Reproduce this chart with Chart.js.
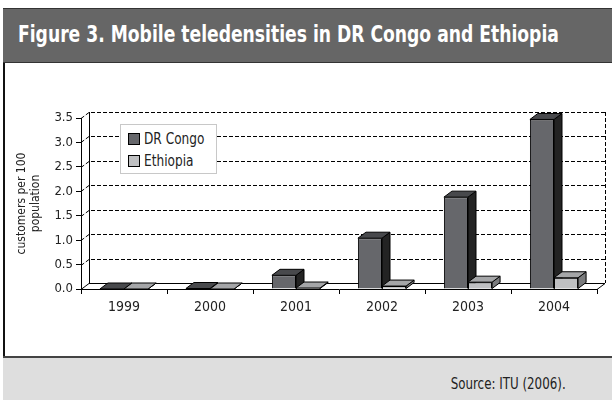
<!DOCTYPE html>
<html>
<head>
<meta charset="utf-8">
<script src="https://cdn.jsdelivr.net/npm/chart.js@4.4.1/dist/chart.umd.min.js"></script>
<style>
    body { margin: 0; width: 612px; height: 400px; position: relative; overflow: hidden; background: #fff;
           font-family: "Liberation Sans Narrow", "DejaVu Sans Condensed", sans-serif; }
    #frame { position: absolute; left: 3px; top: 8px; width: 609px; height: 392px; border-left: 2px solid #111; }
    #head { position: absolute; left: 3px; top: 8px; width: 609px; height: 53px; background: #666;
            border-top: 1px solid #333; border-bottom: 1px solid #333; }
    #head span { position: absolute; left: 15px; top: 12px; color: #fff; font-weight: bold; font-size: 23px;
                 white-space: nowrap; transform: scaleX(0.83); transform-origin: left center; }
    #foot { position: absolute; left: 3px; top: 356px; width: 609px; height: 44px; background: #dedede; border-top: 2px solid #444; }
    #foot span { position: absolute; right: 46px; top: 17px; font-size: 15px; color: #222;
                 white-space: nowrap; transform: scaleX(0.88); transform-origin: right center; }
    #chart { position: absolute; left: 0; top: 0; }
    #legend { position: absolute; left: 120px; top: 124px; width: 95px; height: 48px; background: #fff;
              border: 1px solid #c8c8c8; font-size: 15px; color: #222; }
    #legend div { position: absolute; left: 7px; height: 16px; line-height: 16px; white-space: nowrap; }
    #legend i { display: inline-block; width: 10px; height: 10px; border: 1px solid #000; vertical-align: -1px; margin-right: 4px; }
    #legend b { font-weight: normal; display: inline-block; transform: scaleX(0.9); transform-origin: left center; }
</style>
</head>
<body>
<div id="frame"></div>
<div id="head"><span>Figure 3. Mobile teledensities in DR Congo and Ethiopia</span></div>
<div id="foot"><span>Source: ITU (2006).</span></div>
<canvas id="chart" width="612" height="400"></canvas>
<div id="legend"></div>
<script>
const years = ['1999', '2000', '2001', '2002', '2003', '2004'];
const drCongo = [0, 0.01, 0.28, 1.04, 1.88, 3.47];
const ethiopia = [0, 0, 0.02, 0.06, 0.14, 0.23];
const yTicks = [0, 0.5, 1, 1.5, 2, 2.5, 3, 3.5];

// depth of the fake 3d look
const DX = 8, DY = -6;

const seriesStyle = [
    { label: 'DR Congo', front: '#66676b', top: '#48494c', side: '#232323' },
    { label: 'Ethiopia', front: '#bfc0c2', top: '#a5a6a8', side: '#7a7b7d' }
];

// back wall, floor and left wall
const wallPlugin = {
    id: 'wall',
    beforeDatasetsDraw(chart) {
        const ctx = chart.ctx;
        const y = chart.scales.y;
        const a = chart.chartArea;
        const left = a.left, right = a.right;
        const y0 = y.getPixelForValue(0), yTop = y.getPixelForValue(yTicks[yTicks.length - 1]);
        ctx.save();
        ctx.strokeStyle = '#000';
        ctx.lineWidth = 1;
        // dashed grid on back wall
        ctx.setLineDash([4, 2]);
        yTicks.forEach(v => {
            if (v === 0) return;
            const py = Math.round(y.getPixelForValue(v)) + 0.5;
            ctx.beginPath();
            ctx.moveTo(left, py);
            ctx.lineTo(left + DX, py + DY);
            ctx.lineTo(right + DX, py + DY);
            ctx.stroke();
        });
        // right edge of back wall
        ctx.beginPath();
        ctx.moveTo(right + DX + 0.5, yTop + DY);
        ctx.lineTo(right + DX + 0.5, y0 + DY);
        ctx.stroke();
        ctx.setLineDash([]);
        // floor
        const fy = Math.round(y0) + 0.5;
        ctx.beginPath();
        ctx.moveTo(left, fy);
        ctx.lineTo(left + DX, fy + DY);
        ctx.lineTo(right + DX, fy + DY);
        ctx.lineTo(right, fy);
        ctx.stroke();
        // back edge of left wall
        ctx.beginPath();
        ctx.moveTo(left + DX + 0.5, yTop + DY);
        ctx.lineTo(left + DX + 0.5, y0 + DY);
        ctx.stroke();
        ctx.restore();
    }
};

function drawFaces(ctx, bar, st) {
    const l = bar.x - bar.width / 2, r = bar.x + bar.width / 2;
    const t = bar.y, b = bar.base;
    ctx.fillStyle = st.side;
    ctx.beginPath();
    ctx.moveTo(r, t);
    ctx.lineTo(r + DX, t + DY);
    ctx.lineTo(r + DX, b + DY);
    ctx.lineTo(r, b);
    ctx.closePath();
    ctx.fill();
    ctx.stroke();
    ctx.fillStyle = st.top;
    ctx.beginPath();
    ctx.moveTo(l, t);
    ctx.lineTo(l + DX, t + DY);
    ctx.lineTo(r + DX, t + DY);
    ctx.lineTo(r, t);
    ctx.closePath();
    ctx.fill();
    ctx.stroke();
}

// top and side faces; later series fronts are drawn again so they sit over the earlier sides
const depthPlugin = {
    id: 'depth',
    afterDatasetsDraw(chart) {
        const ctx = chart.ctx;
        chart.data.datasets.forEach((ds, i) => {
            const meta = chart.getDatasetMeta(i);
            if (i > 0) meta.data.forEach(bar => bar.draw(ctx));
            ctx.save();
            ctx.strokeStyle = '#000';
            ctx.lineWidth = 1;
            ctx.lineJoin = 'round';
            meta.data.forEach(bar => drawFaces(ctx, bar, seriesStyle[i]));
            ctx.restore();
        });
    }
};

const font = '"Liberation Sans Narrow", "DejaVu Sans Condensed", sans-serif';

new Chart(document.getElementById('chart'), {
    type: 'bar',
    data: {
        labels: years,
        datasets: [
            { label: seriesStyle[0].label, data: drCongo, backgroundColor: seriesStyle[0].front },
            { label: seriesStyle[1].label, data: ethiopia, backgroundColor: seriesStyle[1].front }
        ]
    },
    options: {
        responsive: false,
        animation: false,
        layout: { padding: { left: 15, right: 15, top: 118, bottom: 0 } },
        datasets: {
            bar: { borderColor: '#000', borderWidth: 1, categoryPercentage: 0.56, barPercentage: 1 }
        },
        plugins: { legend: { display: false }, tooltip: { enabled: false } },
        scales: {
            x: {
                afterFit: s => { s.height = 111; },
                grid: { drawOnChartArea: false, drawTicks: true, tickLength: 5, color: '#000' },
                border: { display: true, color: '#000' },
                ticks: { color: '#222', font: { family: font, size: 14 }, padding: 5 }
            },
            y: {
                min: 0,
                max: 3.5,
                afterFit: s => { s.width = 66; },
                afterBuildTicks: s => { s.ticks = yTicks.map(v => ({ value: v })); },
                grid: { drawOnChartArea: false, drawTicks: true, tickLength: 5, color: '#000' },
                border: { display: true, color: '#000' },
                ticks: { color: '#222', font: { family: font, size: 13 }, padding: 3, callback: v => v.toFixed(1) },
                title: { display: true, text: ['customers per 100', 'population'], color: '#222',
                         font: { family: font, size: 12, lineHeight: 1.15 }, padding: 0 }
            }
        }
    },
    plugins: [wallPlugin, depthPlugin]
});

// legend box
const legend = document.getElementById('legend');
seriesStyle.forEach((s, i) => {
    const row = document.createElement('div');
    row.style.top = (6 + i * 22) + 'px';
    row.innerHTML = '<i style="background:' + s.front + '"></i><b>' + s.label + '</b>';
    legend.appendChild(row);
});
</script>
</body>
</html>
